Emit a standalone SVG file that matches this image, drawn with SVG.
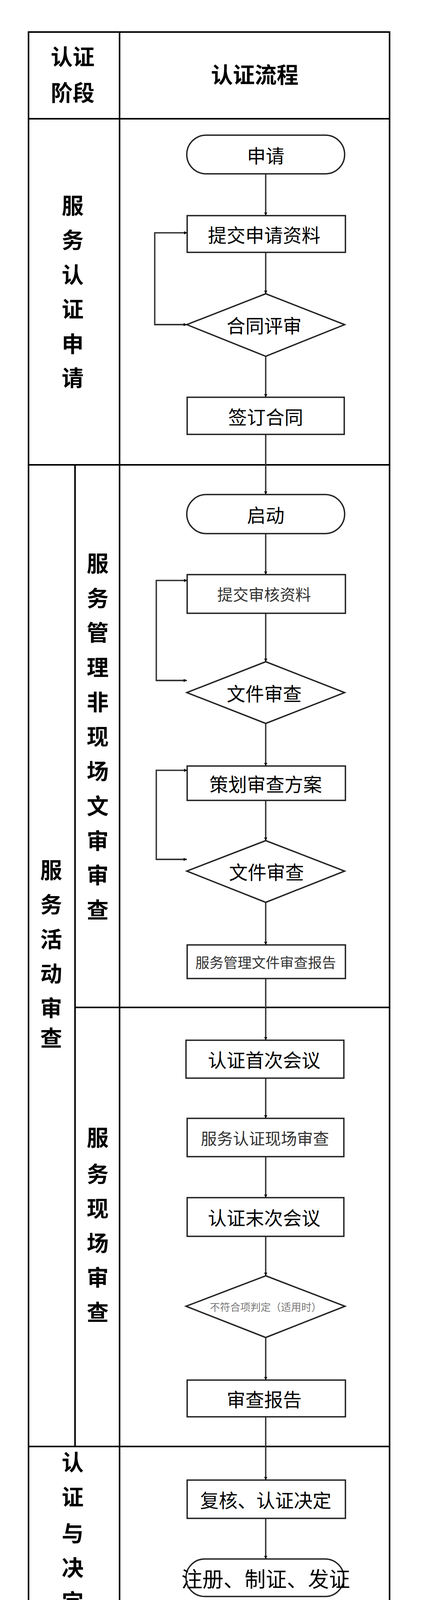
<svg xmlns="http://www.w3.org/2000/svg" width="1080" height="4201" viewBox="0 0 1080 4201">
<style>
.tb{fill:none;stroke:#000;stroke-width:4}
.nd{fill:#fff;stroke:#222;stroke-width:3.5}
.c{fill:none;stroke:#333;stroke-width:3.5}
.h{font-family:"Noto Sans CJK SC","Liberation Sans",sans-serif;font-weight:bold;font-size:56px;fill:#000;text-anchor:middle}
.t{font-family:"Noto Sans CJK SC","Liberation Sans",sans-serif;font-size:48px;fill:#000;text-anchor:middle;dominant-baseline:central}
</style>
<defs><marker id="a" viewBox="0 0 10 10" refX="10" refY="5" markerWidth="8" markerHeight="8" markerUnits="userSpaceOnUse" orient="auto"><path d="M0,0L10,5L0,10z" fill="#000"/></marker></defs>
<rect width="1080" height="4201" fill="#fff"/>
<g id="table">
<rect class="tb" x="73" y="82" width="924" height="4056"/>
<line class="tb" x1="306" y1="82" x2="306" y2="4138"/>
<line class="tb" x1="73" y1="304" x2="997" y2="304"/>
<line class="tb" x1="73" y1="1190" x2="997" y2="1190"/>
<line class="tb" x1="192" y1="1190" x2="192" y2="3703"/>
<line class="tb" x1="192" y1="2579" x2="997" y2="2579"/>
<line class="tb" x1="73" y1="3703" x2="997" y2="3703"/>
</g>
<g id="labels" class="h">
<text x="186" y="166">认证</text><text x="186" y="258">阶段</text>
<text x="652" y="212">认证流程</text>
<text x="186" y="547">服</text><text x="186" y="635">务</text><text x="186" y="724">认</text><text x="186" y="812">证</text><text x="186" y="901">申</text><text x="186" y="988">请</text>
<text x="250" y="1463">服</text><text x="250" y="1552">务</text><text x="250" y="1640">管</text><text x="250" y="1729">理</text><text x="250" y="1818">非</text><text x="250" y="1906">现</text><text x="250" y="1995">场</text><text x="250" y="2084">文</text><text x="250" y="2173">审</text><text x="250" y="2261">审</text><text x="250" y="2350">查</text>
<text x="131" y="2248">服</text><text x="131" y="2336">务</text><text x="131" y="2425">活</text><text x="131" y="2513">动</text><text x="131" y="2601">审</text><text x="131" y="2678">查</text>
<text x="250" y="2933">服</text><text x="250" y="3026">务</text><text x="250" y="3114">现</text><text x="250" y="3203">场</text><text x="250" y="3291">审</text><text x="250" y="3380">查</text>
<text x="186" y="3764">认</text><text x="186" y="3853">证</text><text x="186" y="3946">与</text><text x="186" y="4034">决</text><text x="186" y="4121">定</text>
</g>
<g id="connectors" class="c">
<line x1="680" y1="445" x2="680" y2="552" marker-end="url(#a)"/>
<line x1="680" y1="646" x2="680" y2="752" marker-end="url(#a)"/>
<line x1="680" y1="912" x2="680" y2="1017" marker-end="url(#a)"/>
<path d="M478,831H396V596H479" marker-end="url(#a)"/>
<path d="M396,831H478" marker-end="url(#a)"/>
<line x1="680" y1="1112" x2="680" y2="1266" marker-end="url(#a)"/>
<line x1="680" y1="1366" x2="680" y2="1471" marker-end="url(#a)"/>
<line x1="680" y1="1570" x2="680" y2="1694" marker-end="url(#a)"/>
<path d="M478,1742H400V1486H479" marker-end="url(#a)"/>
<path d="M400,1742H478" marker-end="url(#a)"/>
<line x1="680" y1="1852" x2="680" y2="1961" marker-end="url(#a)"/>
<line x1="680" y1="2049" x2="680" y2="2152" marker-end="url(#a)"/>
<path d="M478,2200H400V1972H479" marker-end="url(#a)"/>
<path d="M400,2200H478" marker-end="url(#a)"/>
<line x1="680" y1="2310" x2="680" y2="2419" marker-end="url(#a)"/>
<line x1="680" y1="2505" x2="680" y2="2663" marker-end="url(#a)"/>
<line x1="680" y1="2760" x2="680" y2="2863" marker-end="url(#a)"/>
<line x1="680" y1="2961" x2="680" y2="3066" marker-end="url(#a)"/>
<line x1="680" y1="3165" x2="680" y2="3266" marker-end="url(#a)"/>
<line x1="680" y1="3424" x2="680" y2="3533" marker-end="url(#a)"/>
<line x1="680" y1="3627" x2="680" y2="3789" marker-end="url(#a)"/>
<line x1="680" y1="3887" x2="680" y2="3991" marker-end="url(#a)"/>
</g>
<g id="n1"><rect class="nd" x="478" y="346" width="404" height="99" rx="49.5"/><text class="t" x="680" y="396">申请</text></g>
<g id="n2"><rect class="nd" x="479" y="552" width="405" height="94"/><text class="t" x="676" y="599">提交申请资料</text></g>
<g id="n3"><polygon class="nd" points="680,752 882,831 680,912 478,831"/><text class="t" x="676" y="831">合同评审</text></g>
<g id="n4"><rect class="nd" x="479" y="1017" width="402" height="95"/><text class="t" x="680" y="1065">签订合同</text></g>
<g id="n5"><rect class="nd" x="478" y="1266" width="404" height="100" rx="50"/><text class="t" x="680" y="1316">启动</text></g>
<g id="n6"><rect class="nd" x="479" y="1471" width="405" height="99"/><text class="t" x="676" y="1520" style="font-size:40px;fill:#333">提交审核资料</text></g>
<g id="n7"><polygon class="nd" points="680,1694 882,1773 680,1852 478,1773"/><text class="t" x="676" y="1773">文件审查</text></g>
<g id="n8"><rect class="nd" x="479" y="1961" width="405" height="88"/><text class="t" x="680" y="2005">策划审查方案</text></g>
<g id="n9"><polygon class="nd" points="680,2152 882,2230 680,2310 478,2230"/><text class="t" x="682" y="2230">文件审查</text></g>
<g id="n10"><rect class="nd" x="479" y="2419" width="405" height="86"/><text class="t" x="680" y="2462" style="font-size:36px;fill:#333">服务管理文件审查报告</text></g>
<g id="n11"><rect class="nd" x="476" y="2663" width="404" height="97"/><text class="t" x="676" y="2711">认证首次会议</text></g>
<g id="n12"><rect class="nd" x="479" y="2863" width="401" height="98"/><text class="t" x="678" y="2912" style="font-size:41px;fill:#333">服务认证现场审查</text></g>
<g id="n13"><rect class="nd" x="479" y="3066" width="401" height="99"/><text class="t" x="676" y="3115">认证末次会议</text></g>
<g id="n14"><polygon class="nd" points="680,3266 883,3344 680,3424 476,3344"/><text class="t" x="680" y="3344" style="font-size:26px;fill:#777">不符合项判定（适用时）</text></g>
<g id="n15"><rect class="nd" x="479" y="3533" width="405" height="94"/><text class="t" x="676" y="3580">审查报告</text></g>
<g id="n16"><rect class="nd" x="479" y="3789" width="405" height="98"/><text class="t" x="680" y="3838">复核、认证决定</text></g>
<g id="n17"><rect class="nd" x="476" y="3991" width="404" height="96" rx="48"/><text class="t" x="680" y="4039" style="font-size:54px">注册、制证、发证</text></g>
</svg>
